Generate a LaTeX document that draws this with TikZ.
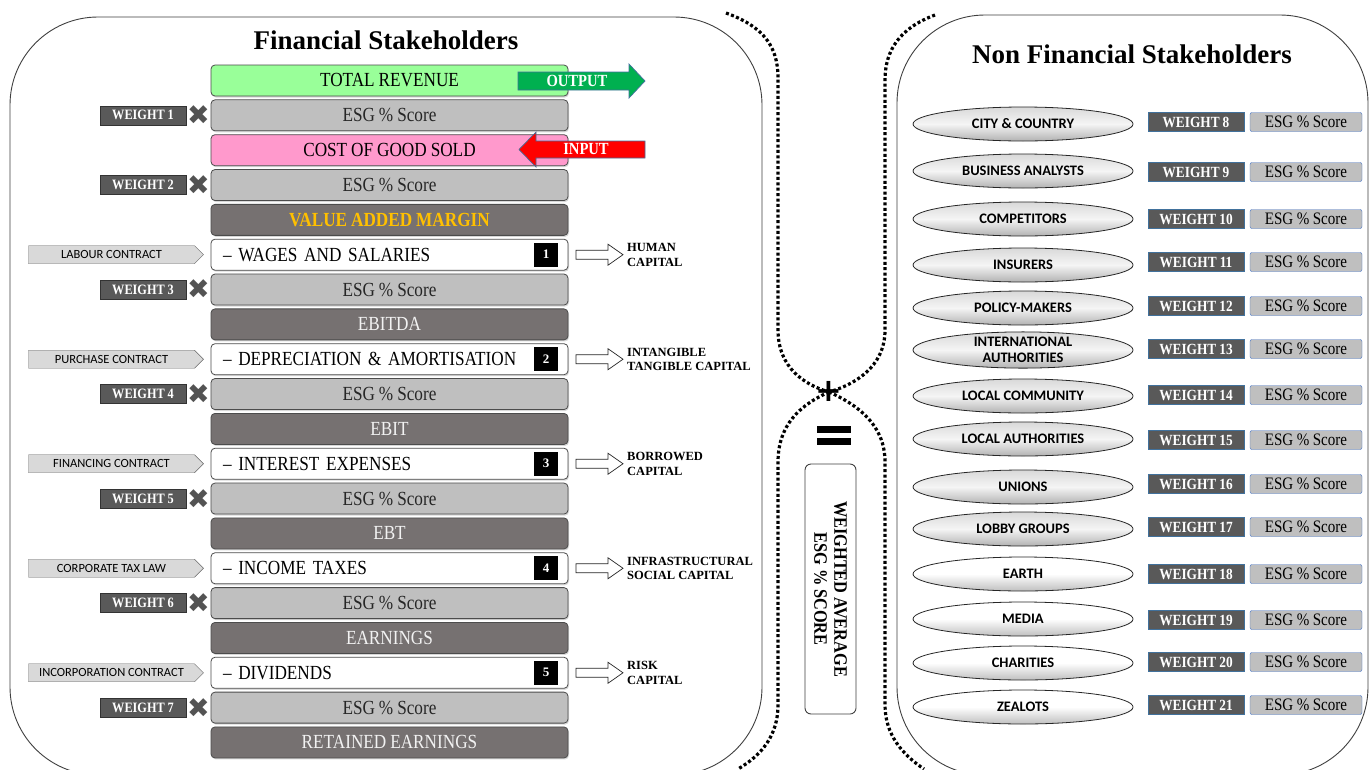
\documentclass[tikz,border=0pt]{standalone}
\usepackage{fontspec}
\setmainfont{Liberation Serif}
\newfontfamily\condserif[FakeStretch=0.86,WordSpace=0.92]{Liberation Serif}
\newfontfamily\calib{Carlito}
\newfontfamily\symfont{DejaVu Sans}
\usetikzlibrary{shapes.geometric,shapes.symbols,shadows}
\definecolor{boxgreen}{HTML}{99FF99}
\definecolor{boxpink}{HTML}{FF99CC}
\definecolor{boxgrey}{HTML}{BFBFBF}
\definecolor{boxdark}{HTML}{767171}
\definecolor{wdark}{HTML}{595959}
\definecolor{gold}{HTML}{FFC000}
\definecolor{outgreen}{HTML}{00B050}
\definecolor{edgeblue}{HTML}{41719C}
\definecolor{blueedge}{HTML}{4472C4}
\definecolor{contractfill}{HTML}{D9D9D9}
\definecolor{lighttext}{HTML}{F2F2F2}
\tikzset{
  panel/.style={draw=black!75, line width=0.9pt, rounded corners=88pt},
  row/.style={draw=black!70, line width=0.8pt, rounded corners=4pt, minimum width=357pt,
    minimum height=31pt, inner sep=0pt, font=\condserif\fontsize{20}{22}\selectfont,
    drop shadow={shadow xshift=1pt, shadow yshift=-1.5pt, opacity=0.3}},
  wrow/.style={row, fill=white, text width=333pt, align=left, inner xsep=12pt},
  numbox/.style={fill=black, text=white, minimum size=24pt, inner sep=0pt,
    font=\bfseries\fontsize{13}{13}\selectfont},
  lweight/.style={draw=black!80, fill=wdark, text=white, minimum width=86pt, minimum height=19pt,
    inner sep=0pt, font=\condserif\bfseries\fontsize{14.3}{15}\selectfont},
  crossmark/.style={text=gray!65!black, font=\symfont\fontsize{27}{27}\selectfont, inner sep=0pt},
  contract/.style={signal, signal to=east, draw=black!60, fill=contractfill, minimum width=175pt,
    minimum height=18pt, inner sep=0pt, text=black, font=\calib\fontsize{12.5}{12.5}\selectfont},
  caplabel/.style={anchor=west, align=left, inner sep=0pt, font=\bfseries\fontsize{12.5}{14.5}\selectfont},
  hollow/.style={draw=black!85, fill=white, line width=0.7pt},
  titletext/.style={font=\bfseries\fontsize{27}{27}\selectfont},
  ell/.style={ellipse, draw=black!85, line width=0.8pt, minimum width=220pt, minimum height=34pt,
    inner sep=0pt, align=center, font=\calib\bfseries\fontsize{14.5}{16}\selectfont},
  ellg/.style={ell, top color=gray!30, bottom color=gray!60, middle color=gray!8},
  ellw/.style={ell, top color=white, bottom color=gray!50, middle color=white},
  rweight/.style={draw=edgeblue, fill=wdark, text=white, minimum width=96pt, minimum height=19pt,
    inner sep=0pt, font=\condserif\bfseries\fontsize{15.5}{16}\selectfont},
  resg/.style={draw=blueedge, fill=boxgrey, rounded corners=2pt, minimum width=112pt, minimum height=19pt,
    inner sep=0pt, font=\condserif\fontsize{17.5}{17.5}\selectfont},
  dots/.style={line width=3.2pt, dash pattern=on 3pt off 2.4pt},
  arrowtext/.style={text=white, inner sep=0pt, font=\condserif\bfseries\fontsize{17}{17}\selectfont}
}
\begin{document}
\begin{tikzpicture}[x=1pt,y=-1pt]
\useasboundingbox (0,0) rectangle (1371,769);
\fill[white] (0,0) rectangle (1371,769);
% panels
\draw[panel] (10,17) rectangle (762,775);
\draw[panel] (897,15) rectangle (1368,775);
\node[titletext] (ftitle) at (386,40) {Financial Stakeholders};
\node[titletext] (ntitle) at (1132,54) {Non Financial Stakeholders};
% left rows
\foreach \i/\t/\f/\c in {
 0/TOTAL REVENUE/boxgreen/black,
 1/ESG \% Score/boxgrey/black!85,
 2/COST OF GOOD SOLD/boxpink/black,
 3/ESG \% Score/boxgrey/black!85,
 4/\textbf{VALUE ADDED MARGIN}/boxdark/gold,
 6/ESG \% Score/boxgrey/black!85,
 7/EBITDA/boxdark/lighttext,
 9/ESG \% Score/boxgrey/black!85,
 10/EBIT/boxdark/lighttext,
 12/ESG \% Score/boxgrey/black!85,
 13/EBT/boxdark/lighttext,
 15/ESG \% Score/boxgrey/black!85,
 16/EARNINGS/boxdark/lighttext,
 18/ESG \% Score/boxgrey/black!85,
 19/RETAINED EARNINGS/boxdark/lighttext}
 \node[row, fill=\f, text=\c] (row\i) at (389.5,{80.5+34.84*\i}) {\t};
% cost rows
\foreach \i/\k/\t/\ct/\l in {
 5/1/WAGES AND SALARIES/LABOUR CONTRACT/HUMAN\\CAPITAL,
 8/2/DEPRECIATION \& AMORTISATION/PURCHASE CONTRACT/INTANGIBLE\\TANGIBLE CAPITAL,
 11/3/INTEREST EXPENSES/FINANCING CONTRACT/BORROWED\\CAPITAL,
 14/4/INCOME TAXES/CORPORATE TAX LAW/INFRASTRUCTURAL\\SOCIAL CAPITAL,
 17/5/DIVIDENDS/INCORPORATION CONTRACT/RISK\\CAPITAL}
{
 \pgfmathsetmacro{\yy}{80.5+34.84*\i}
 \node[wrow] (row\i) at (389.5,\yy) {– \t};
 \node[numbox] (num\k) at (546,\yy) {\k};
 \node[contract] (con\k) at (111.5,\yy) {\ct};
 \draw[hollow] (576,\yy-4.5) -- (608,\yy-4.5) -- (608,\yy-10.5) -- (623,\yy) -- (608,\yy+10.5)
   -- (608,\yy+4.5) -- (576,\yy+4.5) -- cycle;
 \node[caplabel] (cap\k) at (627,\yy) {\l};
}
% weights
\foreach \i/\k in {1/1,3/2,6/3,9/4,12/5,15/6,18/7}
{
 \pgfmathsetmacro{\yy}{80.5+34.84*\i}
 \node[lweight] (w\k) at (143,\yy) {WEIGHT \k};
 \node[crossmark] (x\k) at (198.5,\yy) {✖};
}
% output / input arrows
\draw[fill=outgreen, draw=edgeblue, line width=0.7pt] (518,72) -- (629,72) -- (629,64) -- (645,81)
  -- (629,98) -- (629,90) -- (518,90) -- cycle;
\node[arrowtext] (outtxt) at (577,81) {OUTPUT};
\draw[fill=red, draw=edgeblue, line width=0.7pt] (645,141) -- (536,141) -- (536,132) -- (519,149.5)
  -- (536,167) -- (536,158) -- (645,158) -- cycle;
\node[arrowtext] (intxt) at (586,149.5) {INPUT};
% dotted brackets
\draw[dots] (726,13) .. controls (762,26) and (778,45) .. (778,78) -- (778,330)
  .. controls (778,368) and (805,385) .. (829,392);
\draw[dots] (935,15) .. controls (900,28) and (885,50) .. (885,80) -- (885,330)
  .. controls (885,368) and (853,385) .. (829,392);
\draw[dots] (829,392) .. controls (800,405) and (778,425) .. (778,462) -- (778,705)
  .. controls (778,735) and (762,755) .. (738,769);
\draw[dots] (829,392) .. controls (858,405) and (885,425) .. (885,462) -- (885,705)
  .. controls (885,735) and (903,755) .. (924,769);
\node[font=\symfont\bfseries\fontsize{32}{32}\selectfont, inner sep=0pt] (plus) at (829,391) {+};
\fill (817,426) rectangle (851,433);
\fill (817,438) rectangle (851,445);
\node[draw=black!75, line width=0.9pt, rounded corners=6pt, minimum width=51pt, minimum height=250pt,
  inner sep=0pt, fill=white] (wbox) at (830.5,589) {};
\node[rotate=-90, align=center, inner sep=0pt, font=\condserif\bfseries\fontsize{19}{20}\selectfont]
  (wtext) at (wbox.center) {WEIGHTED AVERAGE\\ESG \% SCORE};
% right side
\foreach \k/\t/\ey/\wy in {
 8/CITY \& COUNTRY/124/122,
 9/BUSINESS ANALYSTS/171/172,
 10/COMPETITORS/219/219,
 11/INSURERS/265/262,
 12/POLICY-MAKERS/308/306,
 13/INTERNATIONAL\\AUTHORITIES/350/349,
 14/LOCAL COMMUNITY/396/395,
 15/LOCAL AUTHORITIES/439/440,
 16/UNIONS/487/484,
 17/LOBBY GROUPS/529/527}
{
 \node[ellg] (s\k) at (1023,\ey) {\t};
 \node[rweight] (w\k) at (1196,\wy) {WEIGHT \k};
 \node[resg] (e\k) at (1306,\wy) {ESG \% Score};
}
\foreach \k/\t/\ey/\wy in {
 18/EARTH/574/574,
 19/MEDIA/619/620,
 20/CHARITIES/663/662,
 21/ZEALOTS/707/705}
{
 \node[ellw] (s\k) at (1023,\ey) {\t};
 \node[rweight] (w\k) at (1196,\wy) {WEIGHT \k};
 \node[resg] (e\k) at (1306,\wy) {ESG \% Score};
}
\end{tikzpicture}
\end{document}
